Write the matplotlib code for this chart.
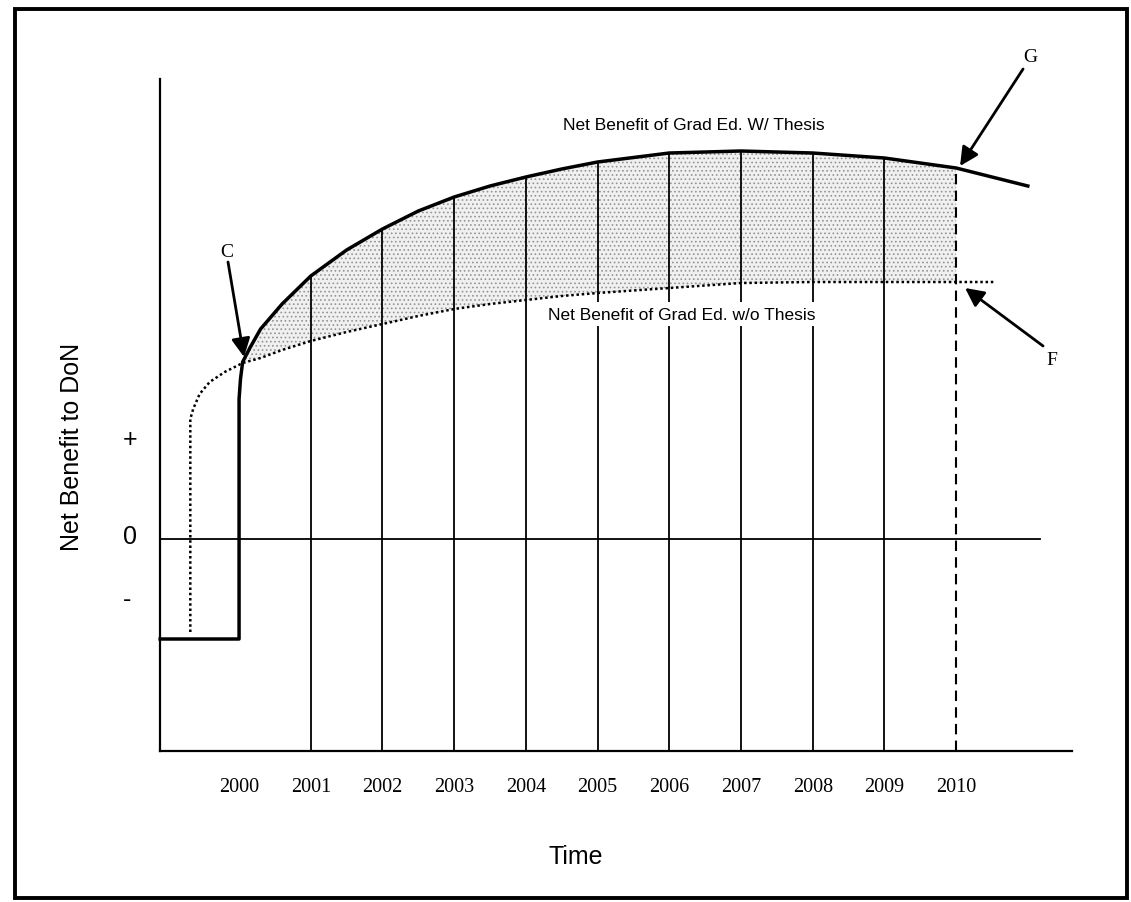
import matplotlib.pyplot as plt
from matplotlib.patches import Rectangle

# curve sample points (years) shared by both benefit curves
years = [2000.05, 2000.15, 2000.3, 2000.6, 2001, 2001.5, 2002, 2002.5, 2003,
         2003.5, 2004, 2004.5, 2005, 2006, 2007, 2008, 2009, 2010]
with_thesis = [1.77, 1.91, 2.10, 2.35, 2.63, 2.89, 3.10, 3.28, 3.42,
               3.53, 3.62, 3.70, 3.77, 3.86, 3.88, 3.86, 3.81, 3.71]
without_thesis = [1.76, 1.78, 1.81, 1.89, 1.98, 2.07, 2.15, 2.23, 2.30,
                  2.35, 2.39, 2.43, 2.46, 2.51, 2.56, 2.57, 2.57, 2.57]

# lead-in (cost period) and run-out of each curve
with_head_x = [1998.9, 2000.0, 2000.0, 2000.02]
with_head_y = [-1.0, -1.0, 1.40, 1.60]
with_tail_x = [2011.0]
with_tail_y = [3.53]
without_head_x = [1999.32, 1999.32, 1999.36, 1999.45, 1999.59, 1999.8]
without_head_y = [-0.93, 1.20, 1.30, 1.45, 1.57, 1.67]
without_tail_x = [2010.52]
without_tail_y = [2.57]

tick_years = list(range(2000, 2011))
line_years = list(range(2001, 2010))
end_year = 2010

x_left, x_right = 1998.9, 2011.62
zero_right = 2011.17
y_bottom, y_top = -2.12, 4.60

fig = plt.figure(figsize=(11.31, 9.03), dpi=100)
ax = fig.add_axes([0, 0, 1, 1])
ax.set_xlim(1996.666, 2012.439)
ax.set_ylim(-3.63, 5.40)
ax.axis('off')


def px(x, y):
    # pixel position in the picture -> data coordinates (for text placement)
    return 2005.5 + (x - 633.4) / 71.7, (540 - y) / 100


# frame round the whole picture
fig.patches.append(Rectangle((15 / 1131, 4 / 903), 1112 / 1131, 889 / 903,
                             transform=fig.transFigure, fill=False,
                             lw=2.8, color='black'))

# axes
ax.plot([x_left, x_left], [y_bottom, y_top], color='black', lw=1.6)
ax.plot([x_left, x_right], [y_bottom, y_bottom], color='black', lw=1.6)
ax.plot([x_left, zero_right], [0, 0], color='black', lw=1.3)

# shaded gain area
plt.rcParams['hatch.linewidth'] = 0.7
ax.fill_between(years, without_thesis, with_thesis, facecolor='#f0f0f0',
                edgecolor='#949494', hatch='....', lw=0, zorder=1)

# yearly lines up to the thesis curve
wt = dict(zip(years, with_thesis))
ax.vlines(line_years, y_bottom, [wt[y] for y in line_years],
          color='black', lw=1.3, zorder=2)
ax.vlines(end_year, y_bottom, wt[end_year], color='black', lw=1.5,
          linestyles=(0, (5, 3)), zorder=2)

# curves
ax.plot(with_head_x + years + with_tail_x, with_head_y + with_thesis + with_tail_y,
        color='black', lw=2.5, zorder=4, solid_joinstyle='round')
ax.plot(without_head_x + years + without_tail_x,
        without_head_y + without_thesis + without_tail_y,
        color='black', lw=1.8, linestyle=(0, (1, 1.1)), zorder=3)

# curve labels
ax.text(*px(694, 125), 'Net Benefit of Grad Ed. W/ Thesis', family='Liberation Sans',
        fontsize=12.5, ha='center', va='center')
ax.text(*px(682, 315), 'Net Benefit of Grad Ed. w/o Thesis', family='Liberation Sans',
        fontsize=12.5, ha='center', va='center', zorder=5,
        bbox=dict(facecolor='white', edgecolor='none', pad=3))

# point labels
arrow = dict(arrowstyle='-|>', color='black', lw=2, mutation_scale=28,
             shrinkA=0, shrinkB=0)
ax.annotate('', xy=px(244, 358), xytext=px(228, 263), arrowprops=arrow, zorder=6)
ax.text(*px(227, 252), 'C', family='Liberation Serif', fontsize=14,
        ha='center', va='center')
ax.annotate('', xy=px(960, 167), xytext=px(1023, 70), arrowprops=arrow, zorder=6)
ax.text(*px(1030, 57), 'G', family='Liberation Serif', fontsize=14,
        ha='center', va='center')
ax.annotate('', xy=px(965, 289), xytext=px(1043, 347), arrowprops=arrow, zorder=6)
ax.text(*px(1052, 360), 'F', family='Liberation Serif', fontsize=14,
        ha='center', va='center')

# tick labels
for yr in tick_years:
    ax.text(yr, px(0, 788)[1], str(yr), family='Liberation Serif', fontsize=14.5,
            ha='center', va='center')

ax.text(*px(130, 440), '+', family='Liberation Sans', fontsize=18, ha='center', va='center')
ax.text(*px(130, 537), '0', family='Liberation Sans', fontsize=18, ha='center', va='center')
ax.text(*px(127, 600), '-', family='Liberation Sans', fontsize=18, ha='center', va='center')

ax.text(*px(576, 857), 'Time', family='Liberation Sans', fontsize=18,
        ha='center', va='center')
ax.text(*px(72, 447), 'Net Benefit to DoN', family='Liberation Sans', fontsize=18,
        rotation=90, ha='center', va='center')

plt.savefig('out.png', dpi=100)
